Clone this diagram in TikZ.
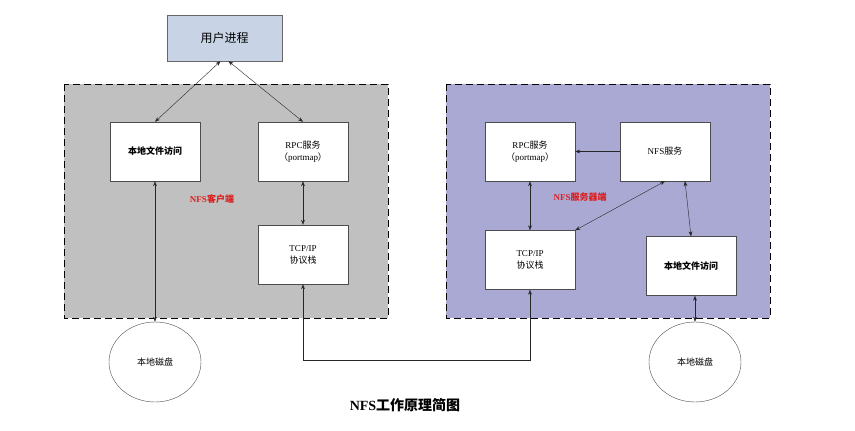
\documentclass[tikz,border=0pt]{standalone}
\usepackage{fontspec}
\setmainfont{Liberation Serif}
\newfontfamily\cjk{Noto Sans CJK SC}
\usetikzlibrary{arrows.meta}
\begin{document}
\begin{tikzpicture}[x=1pt,y=-1pt,
  bx/.style={draw=black!70,fill=white,minimum width=90pt,minimum height=59pt,align=center,font=\fontsize{9}{12}\selectfont,inner sep=0pt},
  zone/.style={draw,thick,dash pattern=on 7pt off 4pt},
  ar/.style={{Stealth[length=5pt]}-{Stealth[length=5pt]},black!85},
  disk/.style={draw=black!70,ellipse,minimum width=92pt,minimum height=80pt,font=\fontsize{9}{11}\selectfont\cjk}]
\usetikzlibrary{shapes.geometric}
\useasboundingbox (0,0) rectangle (855,431);
\fill[white] (0,0) rectangle (855,431);
\draw[zone,fill={rgb,255:red,192;green,192;blue,192}] (64,84) rectangle (388,318);
\draw[zone,fill={rgb,255:red,169;green,169;blue,212}] (446,84) rectangle (770,318);
\node[draw=black!60,fill={rgb,255:red,200;green,212;blue,230},minimum width=115pt,minimum height=46pt,font=\fontsize{12}{14}\selectfont\cjk] (user) at (224.5,38) {用户进程};
\node[bx,font=\fontsize{9}{12}\selectfont\cjk\bfseries] (clf) at (155,151.5) {本地文件访问};
\node[bx] (crpc) at (303,151.5) {RPC{\cjk 服务}\\{\cjk（}portmap{\cjk ）}};
\node[bx] (ctcp) at (303,254.5) {TCP/IP\\{\cjk 协议栈}};
\node[font=\fontsize{9}{11}\selectfont\bfseries,text={rgb,255:red,220;green,30;blue,30}] (clab) at (212,199) {NFS{\cjk 客户端}};
\node[disk] (cdisk) at (155,362) {本地磁盘};
\node[bx] (srpc) at (530,151.5) {RPC{\cjk 服务}\\{\cjk（}portmap{\cjk ）}};
\node[bx] (snfs) at (665,151.5) {NFS{\cjk 服务}};
\node[bx] (stcp) at (530,260) {TCP/IP\\{\cjk 协议栈}};
\node[bx,font=\fontsize{9}{12}\selectfont\cjk\bfseries] (slf) at (691,266) {本地文件访问};
\node[font=\fontsize{9}{11}\selectfont\bfseries,text={rgb,255:red,220;green,30;blue,30}] (slab) at (580,197) {NFS{\cjk 服务器端}};
\node[disk] (sdisk) at (695,362) {本地磁盘};
\node[font=\fontsize{14}{16}\selectfont\bfseries] (title) at (405,405) {NFS{\cjk 工作原理简图}};
\draw[ar] (user.south) ++(-4,0) coordinate (u1) -- (clf.north);
\draw[ar] (user.south) ++(4,0) coordinate (u2) -- (crpc.north);
\draw[ar] (clf) -- (cdisk);
\draw[ar] (crpc) -- (ctcp);
\draw[ar] (ctcp.south) -- ++(0,76) -| (stcp.south);
\draw[-{Stealth[length=5pt]},black!85] (snfs) -- (srpc);
\draw[ar] (srpc) -- (stcp);
\draw[ar] (snfs.south) -- (stcp.north east);
\draw[ar] ([xshift=20pt]snfs.south) -- (slf.north);
\draw[ar] ([xshift=4pt]slf.south) -- (sdisk.north);
\end{tikzpicture}
\end{document}
